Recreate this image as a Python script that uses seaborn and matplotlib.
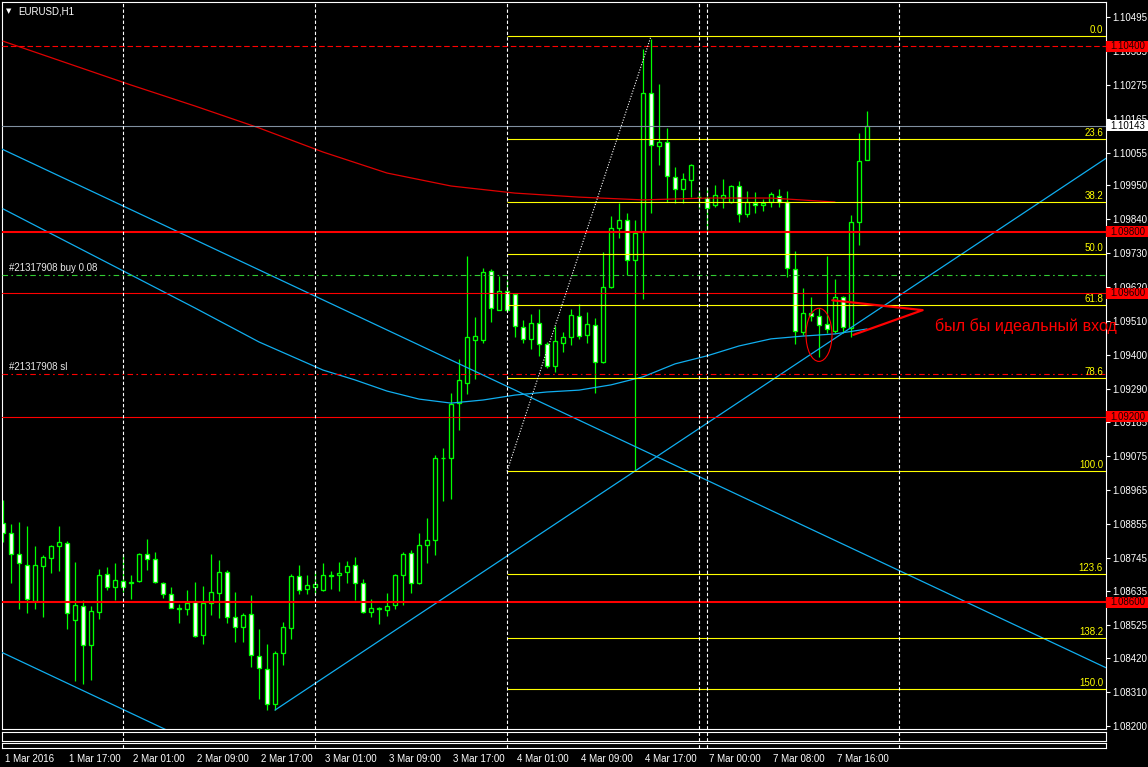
import numpy as np
import matplotlib
matplotlib.use("Agg")
import matplotlib.pyplot as plt
import seaborn as sns
from matplotlib.patches import Rectangle, Ellipse
from matplotlib.transforms import blended_transform_factory, ScaledTranslation

# ---------------- data ----------------
opens = [1.08857,1.08824,1.08756,1.08721,1.08604,1.08718,1.08743,1.08782,1.08792,1.08543,
         1.08588,1.08462,1.08569,1.08692,1.08650,1.08669,1.08663,1.08669,1.08756,1.08740,
         1.08663,1.08627,1.08582,1.08578,1.08601,1.08494,1.08598,1.08630,1.08698,1.08552,
         1.08520,1.08562,1.08426,1.08384,1.08271,1.08436,1.08517,1.08685,1.08643,1.08650,
         1.08640,1.08685,1.08688,1.08698,1.08721,1.08663,1.08569,1.08578,1.08575,1.08591,
         1.08688,1.08760,1.08663,1.08786,1.08802,1.09066,1.09067,1.09245,1.09310,1.09449,
         1.09449,1.09673,1.09546,1.09608,1.09598,1.09491,1.09453,1.09504,1.09436,1.09365,
         1.09440,1.09459,1.09527,1.09466,1.09498,1.09378,1.09621,1.09812,1.09838,1.09708,
         1.09799,1.10249,1.10077,1.10090,1.09977,1.09938,1.09967,1.09911,1.09909,1.09886,
         1.09909,1.09896,1.09948,1.09857,1.09893,1.09886,1.09896,1.09916,1.09896,1.09679,
         1.09475,1.09537,1.09527,1.09501,1.09478,1.09589,1.09488,1.09831,1.10032]
closes = [1.08824,1.08756,1.08727,1.08611,1.08721,1.08747,1.08782,1.08795,1.08565,1.08591,
          1.08462,1.08572,1.08688,1.08650,1.08672,1.08650,1.08666,1.08756,1.08740,1.08666,
          1.08627,1.08582,1.08578,1.08598,1.08491,1.08598,1.08633,1.08698,1.08552,1.08520,
          1.08559,1.08429,1.08387,1.08271,1.08436,1.08520,1.08685,1.08640,1.08656,1.08659,
          1.08688,1.08688,1.08695,1.08718,1.08663,1.08569,1.08582,1.08582,1.08588,1.08688,
          1.08756,1.08663,1.08786,1.08802,1.09067,1.09067,1.09242,1.09320,1.09459,1.09462,
          1.09670,1.09553,1.09608,1.09546,1.09495,1.09453,1.09504,1.09436,1.09365,1.09446,
          1.09459,1.09530,1.09462,1.09501,1.09378,1.09621,1.09812,1.09838,1.09708,1.09796,
          1.10249,1.10081,1.10090,1.09980,1.09938,1.09971,1.10016,1.09912,1.09877,1.09919,
          1.09919,1.09948,1.09857,1.09896,1.09886,1.09893,1.09922,1.09896,1.09682,1.09478,
          1.09537,1.09527,1.09498,1.09485,1.09589,1.09491,1.09831,1.10029,1.10143]
highs = [1.08930,1.08854,1.08860,1.08847,1.08782,1.08753,1.08785,1.08847,1.08798,1.08730,
         1.08607,1.08588,1.08708,1.08714,1.08727,1.08756,1.08688,1.08758,1.08805,1.08763,
         1.08665,1.08650,1.08594,1.08640,1.08666,1.08653,1.08756,1.08737,1.08705,1.08633,
         1.08565,1.08624,1.08514,1.08465,1.08442,1.08536,1.08692,1.08721,1.08688,1.08701,
         1.08727,1.08701,1.08730,1.08734,1.08747,1.08675,1.08611,1.08585,1.08630,1.08690,
         1.08763,1.08769,1.08824,1.08873,1.09077,1.09100,1.09278,1.09388,1.09721,1.09524,
         1.09682,1.09679,1.09657,1.09644,1.09600,1.09514,1.09534,1.09550,1.09443,1.09495,
         1.09475,1.09550,1.09566,1.09540,1.09521,1.09734,1.09851,1.09893,1.09861,1.09838,
         1.10392,1.10424,1.10278,1.10136,1.10009,1.09990,1.10018,1.09932,1.09941,1.09951,
         1.09971,1.09951,1.09964,1.09932,1.09929,1.09906,1.09929,1.09938,1.09932,1.09738,
         1.09618,1.09589,1.09553,1.09721,1.09647,1.09591,1.09854,1.10120,1.10191]
lows = [1.08795,1.08663,1.08578,1.08565,1.08578,1.08552,1.08695,1.08701,1.08514,1.08345,
        1.08335,1.08348,1.08546,1.08640,1.08607,1.08633,1.08611,1.08666,1.08705,1.08663,
        1.08614,1.08580,1.08533,1.08559,1.08489,1.08465,1.08559,1.08549,1.08533,1.08471,
        1.08471,1.08390,1.08287,1.08251,1.08251,1.08397,1.08481,1.08627,1.08627,1.08627,
        1.08638,1.08643,1.08637,1.08663,1.08607,1.08565,1.08552,1.08530,1.08555,1.08578,
        1.08591,1.08630,1.08660,1.08727,1.08753,1.08928,1.08934,1.09158,1.09274,1.09323,
        1.09440,1.09508,1.09546,1.09543,1.09459,1.09440,1.09420,1.09398,1.09359,1.09346,
        1.09410,1.09433,1.09453,1.09440,1.09278,1.09375,1.09618,1.09780,1.09660,1.09025,
        1.09582,1.09861,1.10016,1.09896,1.09893,1.09893,1.09912,1.09877,1.09806,1.09880,
        1.09877,1.09894,1.09831,1.09848,1.09861,1.09867,1.09880,1.09880,1.09653,1.09436,
        1.09466,1.09511,1.09394,1.09472,1.09472,1.09472,1.09459,1.09757,1.10032]

ma_slow_idx = [0, 8, 16, 24, 32, 40, 48, 56, 64, 72, 80, 88, 96, 104]
ma_slow = [1.10417, 1.10346, 1.10275, 1.10207, 1.10136, 1.10058, 1.09990, 1.09948,
           1.09925, 1.09912, 1.09903, 1.09909, 1.09909, 1.09896]
ma_fast_idx = [0, 8, 16, 24, 32, 40, 44, 48, 52, 56, 60, 64, 68, 72, 76, 80, 84, 88,
               92, 96, 100, 104, 108]
ma_fast = [1.09874, 1.09767, 1.09660, 1.09553, 1.09443, 1.09352, 1.09320, 1.09284,
           1.09258, 1.09245, 1.09255, 1.09271, 1.09281, 1.09287, 1.09304, 1.09330,
           1.09372, 1.09398, 1.09430, 1.09453, 1.09462, 1.09469, 1.09485]

# trend lines: (bar index, price) anchors
chan_top = [(0, 1.10066), (100, 1.08849)]
chan_bot = [(0, 1.08436), (20, 1.08192)]
up_line = [(34, 1.08251), (79, 1.09025)]

# fibonacci retracement
fib_start, fib_end = 63, 81
fib_low, fib_high = 1.09024, 1.10433
fib_levels = [0.0, 23.6, 38.2, 50.0, 61.8, 78.6, 100.0, 123.6, 138.2, 150.0]

# horizontal levels
levels_thick = [1.09800, 1.08600]
levels_thin = [1.09600, 1.09200]
tp_level = 1.10400
order_open = 1.09660
order_sl = 1.09339
bid = 1.10143
order_label = "#21317908 buy 0.08"
sl_label = "#21317908 sl"
red_axis_labels = [1.10400, 1.09800, 1.09600, 1.09200, 1.08600]

# day separators (bar index)
sep_idx = [15, 39, 63, 87, 88, 112]

# axes ticks
tick_idx = [0, 8, 16, 24, 32, 40, 48, 56, 64, 72, 80, 88, 96, 104]
tick_labels = ["1 Mar 2016", "1 Mar 17:00", "2 Mar 01:00", "2 Mar 09:00", "2 Mar 17:00",
               "3 Mar 01:00", "3 Mar 09:00", "3 Mar 17:00", "4 Mar 01:00", "4 Mar 09:00",
               "4 Mar 17:00", "7 Mar 00:00", "7 Mar 08:00", "7 Mar 16:00"]
price_ticks = [1.10495, 1.10385, 1.10275, 1.10165, 1.10055, 1.09950, 1.09840, 1.09730,
               1.09620, 1.09510, 1.09400, 1.09290, 1.09185, 1.09075, 1.08965, 1.08855,
               1.08745, 1.08635, 1.08525, 1.08420, 1.08310, 1.08200]

# annotations
note_text = "был бы идеальный вход"
note_pos = (116.5, 1.09495)
ellipse_center = (102.0, 1.09466)
ellipse_size = (3.25, 0.00172)
arrow_pts = [(103.66, 1.09578), (114.96, 1.09546), (106.29, 1.09466)]

# ---------------- style ----------------
sns.set_style("dark", {"axes.facecolor": "black", "figure.facecolor": "black"})
plt.rcParams['font.family'] = ['Liberation Sans', 'DejaVu Sans']

LIME = '#00FF00'
BLUE = '#10AEEF'
RED = '#FF0000'
YEL = '#FFFF00'
FS = 7.0

W, H = 1148, 767
fig = plt.figure(figsize=(W / 100, H / 100), dpi=100, facecolor='black')


def fx(px):
    return px / W


def fy(py):
    return 1 - py / H


L_PX, R_PX, T_PX, B_PX = 2, 1106, 2, 729
ax = fig.add_axes([fx(L_PX), fy(B_PX), fx(R_PX) - fx(L_PX), fy(T_PX) - fy(B_PX)])
ax.set_facecolor('black')
xmin, xmax = -0.125, 137.875
ymin, ymax = 1.081897, 1.105438
ppx = (ymax - ymin) / (B_PX - T_PX)

# candles
idx = np.arange(len(opens))
o = np.array(opens); c = np.array(closes); h = np.array(highs); l = np.array(lows)
bear = c < o
ax.vlines(idx, l, h, color=LIME, lw=0.9, zorder=2)
ax.bar(idx, np.abs(c - o), bottom=np.minimum(o, c), width=0.56,
       color=['white' if b else 'black' for b in bear], edgecolor=LIME,
       linewidth=0.95, zorder=2.2)

# moving averages
sns.lineplot(x=ma_slow_idx, y=ma_slow, ax=ax, color='#E00000', lw=0.9,
             estimator=None, sort=False, zorder=3)
sns.lineplot(x=ma_fast_idx, y=ma_fast, ax=ax, color=BLUE, lw=0.9,
             estimator=None, sort=False, zorder=3)


def line_vals(anchor, xs):
    (i1, p1), (i2, p2) = anchor
    s = (p2 - p1) / (i2 - i1)
    return [p1 + s * (x - i1) for x in xs]


for anc, xs in [(chan_top, [xmin, xmax]), (chan_bot, [xmin, 30]),
                (up_line, [up_line[0][0], xmax])]:
    sns.lineplot(x=xs, y=line_vals(anc, xs), ax=ax, color=BLUE, lw=0.9,
                 estimator=None, sort=False, zorder=3)

# horizontal levels
for lv in levels_thick:
    ax.axhline(lv, color=RED, lw=1.5, zorder=3)
for lv in levels_thin:
    ax.axhline(lv, color=RED, lw=0.8, zorder=3)
ax.axhline(tp_level, color=RED, lw=0.8, dashes=(5, 2.5), zorder=3)
ax.axhline(order_open, color='#33CC33', lw=0.8, dashes=(5, 3, 1.5, 3), zorder=3)
ax.axhline(order_sl, color=RED, lw=0.8, dashes=(5, 3, 1.5, 3), zorder=3)
ax.axhline(bid, color='#8090A0', lw=0.8, zorder=3)

bl = blended_transform_factory(ax.transAxes, ax.transData)
ax.annotate(order_label, xy=(0, order_open), xycoords=bl, xytext=(7, 2),
            textcoords='offset pixels', ha='left', va='bottom', color='#E8E8E8', fontsize=FS)
ax.annotate(sl_label, xy=(0, order_sl), xycoords=bl, xytext=(7, 2),
            textcoords='offset pixels', ha='left', va='bottom', color='#E8E8E8', fontsize=FS)

# fibonacci
rng = fib_high - fib_low
for lvl in fib_levels:
    p = fib_high - rng * lvl / 100.0
    ax.hlines(p, fib_start, xmax, color=YEL, lw=0.8, zorder=3)
    ax.annotate(f"{lvl:.1f}", xy=(1, p), xycoords=bl, xytext=(-3, 1),
                textcoords='offset pixels', ha='right', va='bottom', color=YEL, fontsize=FS)
ax.plot([fib_start, fib_end], [fib_low, fib_high], color='white', lw=0.8,
        linestyle=(0, (1, 1.5)), zorder=3)

# separators
for s in sep_idx:
    ax.axvline(s, color='white', lw=0.8, dashes=(3, 2), zorder=3)

# annotations
ax.add_patch(Ellipse(ellipse_center, ellipse_size[0], ellipse_size[1], angle=0,
                     fill=False, edgecolor=RED, lw=0.8, zorder=4))
ax.plot([arrow_pts[0][0], arrow_pts[1][0], arrow_pts[2][0]],
        [arrow_pts[0][1], arrow_pts[1][1], arrow_pts[2][1]], color=RED, lw=1.6, zorder=4)
ax.text(note_pos[0], note_pos[1], note_text, color=RED, fontsize=11.5, ha='left',
        va='center', zorder=6, clip_on=False)

ax.set_xlim(xmin, xmax)
ax.set_ylim(ymin, ymax)

# price axis
ax.yaxis.tick_right()
ax.set_yticks(price_ticks)
ax.set_yticklabels([f"{v:.5f}" for v in price_ticks])
ax.tick_params(axis='y', length=3, width=0.8, colors='white', labelsize=FS, pad=1.5,
               direction='out')
ax.set_xticks([])
for sp in ax.spines.values():
    sp.set_color('white')
    sp.set_linewidth(0.8)
ax.grid(False)

fb = blended_transform_factory(fig.transFigure, ax.transData)
hh = 5.5 * ppx
for v in red_axis_labels:
    ax.add_patch(Rectangle((fx(R_PX), v - hh), 1 - fx(R_PX), 2 * hh, transform=fb,
                           facecolor=RED, edgecolor='none', clip_on=False, zorder=7))
    ax.text(fx(R_PX + 4), v, f"{v:.5f}", transform=fb, color='#1A0000', fontsize=FS,
            va='center', ha='left', zorder=8, clip_on=False)
ax.add_patch(Rectangle((fx(R_PX), bid - hh), 1 - fx(R_PX), 2 * hh, transform=fb,
                       facecolor='white', edgecolor='none', clip_on=False, zorder=7))
ax.text(fx(R_PX + 4), bid, f"{bid:.5f}", transform=fb, color='black', fontsize=FS,
        va='center', ha='left', zorder=8, clip_on=False)

# sub windows
sub1 = fig.add_axes([fx(L_PX), fy(740.5), fx(R_PX) - fx(L_PX), (740.5 - 731.5) / H])
sub2 = fig.add_axes([fx(L_PX), fy(747.5), fx(R_PX) - fx(L_PX), (747.5 - 742.5) / H])
for sa in (sub1, sub2):
    sa.set_facecolor('black')
    sa.set_xlim(xmin, xmax)
    sa.set_yticks([])
    sa.grid(False)
    for sp in sa.spines.values():
        sp.set_color('white')
        sp.set_linewidth(0.8)
    for s in sep_idx:
        sa.axvline(s, color='white', lw=0.8, dashes=(3, 2))
sub1.set_xticks([])
sub2.set_xticks(tick_idx)
sub2.set_xticklabels(tick_labels, ha='left')
sub2.tick_params(axis='x', length=3, width=0.8, colors='white', labelsize=FS, pad=1.5,
                 direction='out')
for lab in sub2.get_xticklabels():
    lab.set_transform(lab.get_transform() + ScaledTranslation(2 / 100, 0, fig.dpi_scale_trans))

# title
fig.text(fx(6), fy(11), '▼', color='white', fontsize=5, va='center', ha='left',
         family='DejaVu Sans')
fig.text(fx(18), fy(11), 'EURUSD,H1', color='white', fontsize=FS, va='center', ha='left')

fig.savefig('out.png', dpi=100, facecolor='black')
